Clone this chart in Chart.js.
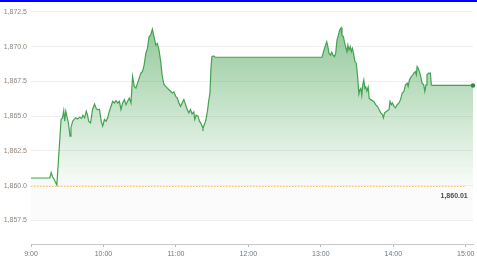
<!DOCTYPE html>
<html>
<head>
<meta charset="utf-8">
<script src="https://cdn.jsdelivr.net/npm/chart.js@4/dist/chart.umd.min.js"></script>
<style>
  body { margin: 0; background: #fff; }
  #wrap { width: 477px; height: 258px; border-top: 2px solid #0000ff; }
</style>
</head>
<body>
<div id="wrap"><canvas id="priceChart" width="477" height="258"></canvas></div>
<script>
// minutes after 9:00 and the price at that moment
const minutes = [
  0, 15.6, 16.7, 17.8, 18.9, 21.4, 24.9, 26.1, 27.1, 27.9, 28.8, 31.0, 32.3, 33.1, 34.5, 35.9,
  37.0, 38.6, 40.3, 41.9, 43.0, 44.4, 45.8, 46.8, 47.7, 49.3, 51.0, 52.6, 54.0, 55.1, 56.7,
  58.1, 59.4, 60.8, 62.2, 63.5, 64.9, 66.3, 67.6, 69.0, 70.4, 71.8, 73.2, 74.5, 75.9, 77.3,
  78.7, 80.0, 81.4, 82.8, 84.1, 85.5, 86.9, 88.2, 89.6, 91.0, 92.3, 93.7, 95.1, 96.4, 97.8,
  99.2, 100.5, 101.9, 103.3, 104.6, 106.0, 107.4, 108.7, 110.1, 111.5, 112.9, 114.2, 115.6,
  117.0, 118.4, 119.8, 121.1, 122.5, 123.8, 125.2, 126.6, 128.0, 129.3, 130.7, 132.1, 133.4,
  134.8, 135.6, 136.7, 138.3, 139.5, 140.5, 141.6, 142.4, 143.8, 144.9, 146.1, 147.1, 148.2,
  149.0, 149.8, 151.0, 152.6, 240, 241,
  242.2, 243.5, 244.9, 245.8, 246.8, 248.0, 249.0, 250.1, 251.3, 252.3, 253.4, 254.5, 255.6,
  256.7, 257.5, 258.7, 259.5, 260.5, 261.6, 262.4, 263.3, 264.4, 265.2, 266.1, 267.1, 268.2,
  269.3, 270.4, 271.5, 272.3, 273.1, 273.9, 274.8, 275.6, 276.4, 277.2, 278.1, 279.2, 280.0,
  281.3, 282.7, 284.1, 285.4, 286.8, 288.2, 289.6, 291.0, 291.8, 292.8, 294.5, 296.5, 297.3,
  298.4, 299.2, 300.6, 301.9, 303.3, 304.7, 306.0, 307.4, 308.8, 310.1, 311.5, 312.3, 313.4,
  314.2, 315.0, 316.2, 317.0, 318.3, 319.1, 319.7, 320.6, 321.6, 322.4, 323.8, 325.2, 326.1,
  327.1, 327.9, 329.3, 330.7, 331.5, 332.6, 366
];
const prices = [
  1860.55, 1860.55, 1860.93, 1860.64, 1860.5, 1860.05, 1864.76, 1864.88, 1865.4, 1864.64, 1865.36, 1864.5, 1863.57, 1864.17, 1864.64, 1864.79,
  1864.88, 1864.79, 1864.93, 1864.84, 1865.07, 1864.88, 1865.36, 1865.07, 1864.64, 1864.52, 1865.48, 1865.88, 1865.55, 1865.45, 1865.5,
  1864.64, 1864.29, 1864.76, 1864.64, 1864.88, 1865.36, 1865.71, 1866.07, 1865.95, 1866.12, 1865.95, 1866.07, 1865.48, 1865.95, 1866.19,
  1865.83, 1866.07, 1866.31, 1865.95, 1867.86, 1867.14, 1867.02, 1867.38, 1867.74, 1868.1, 1868.21, 1868.69, 1869.52, 1869.88, 1870.71,
  1870.88, 1871.26, 1870.71, 1870.12, 1870.24, 1869.76, 1868.93, 1867.86, 1867.26, 1867.14, 1867.02, 1866.9, 1866.79,
  1866.67, 1866.74, 1866.43, 1866.31, 1865.95, 1865.71, 1865.95, 1866.19, 1865.83, 1865.48, 1865.24, 1865.48, 1865.16,
  1865.31, 1864.76, 1865.07, 1865.0, 1864.64, 1864.52, 1864.29, 1864.12, 1864.45, 1864.76, 1865.36, 1866.07, 1866.67,
  1868.45, 1869.29, 1869.34, 1869.24, 1869.24, 1869.24,
  1869.64, 1870.0, 1870.36, 1870.0, 1869.52, 1869.4, 1869.6, 1869.4, 1869.29, 1869.52, 1870.48, 1870.83, 1871.19,
  1871.36, 1870.83, 1870.71, 1870.36, 1870.0, 1869.64, 1870.12, 1869.76, 1870.0, 1869.64, 1869.88, 1869.52, 1868.93,
  1868.81, 1867.9, 1866.6, 1866.9, 1867.0, 1866.5, 1867.3, 1867.6, 1867.0, 1867.1, 1866.8, 1867.1, 1866.3,
  1866.19, 1866.12, 1866.02, 1865.83, 1865.71, 1865.48, 1865.24, 1865.12, 1864.88, 1865.24, 1865.36, 1865.48, 1866.07,
  1865.83, 1865.95, 1865.71, 1865.6, 1865.83, 1865.95, 1866.19, 1866.67, 1866.79, 1867.26, 1867.38, 1867.14, 1867.62,
  1867.74, 1867.86, 1867.98, 1868.1, 1868.21, 1867.98, 1868.57, 1868.45, 1868.21, 1867.98, 1867.38, 1867.26, 1866.79,
  1867.26, 1867.98, 1868.1, 1868.1, 1867.26, 1867.21, 1867.21
];
const prevClose = 1860.01;
const yTicks = [1857.5, 1860, 1862.5, 1865, 1867.5, 1870, 1872.5];
const hourLabels = ["9:00", "10:00", "11:00", "12:00", "13:00", "14:00", "15:00"];
const hourTicks = [0, 60, 120, 180, 240, 300, 360];

const baselinePlugin = {
  id: "baseline",
  beforeDatasetsDraw(chart) {
    const { ctx, chartArea, scales } = chart;
    const y0 = scales.y.getPixelForValue(prevClose);
    const y1 = scales.y.getPixelForValue(yTicks[0]);
    ctx.save();
    ctx.fillStyle = "rgba(0,0,0,0.015)";
    ctx.fillRect(chartArea.left, y0, chartArea.right - chartArea.left, y1 - y0);
    ctx.restore();
  },
  afterDatasetsDraw(chart) {
    const { ctx, chartArea, scales } = chart;
    const y = Math.round(scales.y.getPixelForValue(prevClose)) + 0.5;
    const xEnd = scales.x.getPixelForValue(hourTicks[hourTicks.length - 1]);
    ctx.save();
    ctx.strokeStyle = "#f4c46e";
    ctx.lineWidth = 1;
    ctx.setLineDash([1.5, 1.5]);
    ctx.beginPath();
    ctx.moveTo(chartArea.left, y);
    ctx.lineTo(xEnd, y);
    ctx.stroke();
    ctx.setLineDash([]);
    ctx.fillStyle = "#4a4a4a";
    ctx.font = "600 7px 'Liberation Sans', Arial, sans-serif";
    ctx.textAlign = "right";
    ctx.textBaseline = "middle";
    ctx.fillText(prevClose.toLocaleString("en-US", { minimumFractionDigits: 2 }), xEnd + 2, y + 10);
    ctx.restore();
  }
};

const ctx = document.getElementById("priceChart").getContext("2d");
new Chart(ctx, {
  type: "line",
  data: {
    datasets: [
      {
        data: minutes.map((m, i) => ({ x: m, y: prices[i] })),
        borderColor: "#41a350",
        borderWidth: 1.2,
        tension: 0,
        pointRadius: (c) => (c.dataIndex === minutes.length - 1 ? 2.2 : 0),
        pointBackgroundColor: "#2f8a3e",
        pointBorderWidth: 0,
        clip: false,
        fill: { value: prevClose },
        backgroundColor: (c) => {
          const chart = c.chart;
          const area = chart.chartArea;
          if (!area) return "rgba(67,160,71,0.2)";
          const g = chart.ctx.createLinearGradient(0, area.top, 0, chart.scales.y.getPixelForValue(prevClose));
          g.addColorStop(0, "rgba(60,158,72,0.62)");
          g.addColorStop(1, "rgba(60,158,72,0.03)");
          return g;
        }
      }
    ]
  },
  options: {
    responsive: false,
    animation: false,
    layout: { padding: { top: 2, right: 0, left: 0, bottom: 0 } },
    plugins: { legend: { display: false }, tooltip: { enabled: false } },
    scales: {
      x: {
        type: "linear",
        min: 0,
        max: 366,
        afterBuildTicks: (s) => { s.ticks = hourTicks.map((v) => ({ value: v })); },
        afterFit: (s) => { s.height = 16; s.paddingLeft = 0; s.paddingRight = 0; },
        grid: { drawOnChartArea: false, tickLength: 3, color: "#b8bcc0" },
        border: { color: "#c8c8c8" },
        ticks: {
          padding: 3,
          maxRotation: 0,
          color: "#6b7785",
          font: { size: 7, family: "'Liberation Sans', Arial, sans-serif" },
          callback: (v, i) => hourLabels[i]
        }
      },
      y: {
        min: 1855.8,
        max: 1872.93,
        afterBuildTicks: (s) => { s.ticks = yTicks.map((v) => ({ value: v })); },
        afterFit: (s) => { s.width = 31; s.paddingTop = 0; s.paddingBottom = 0; },
        grid: { color: "#efefef", drawTicks: false },
        border: { display: false },
        ticks: {
          padding: 4,
          color: "#8f847a",
          font: { size: 7, family: "'Liberation Sans', Arial, sans-serif" },
          callback: (v) => v.toLocaleString("en-US", { minimumFractionDigits: 1 })
        }
      }
    }
  },
  plugins: [baselinePlugin]
});
</script>
</body>
</html>
